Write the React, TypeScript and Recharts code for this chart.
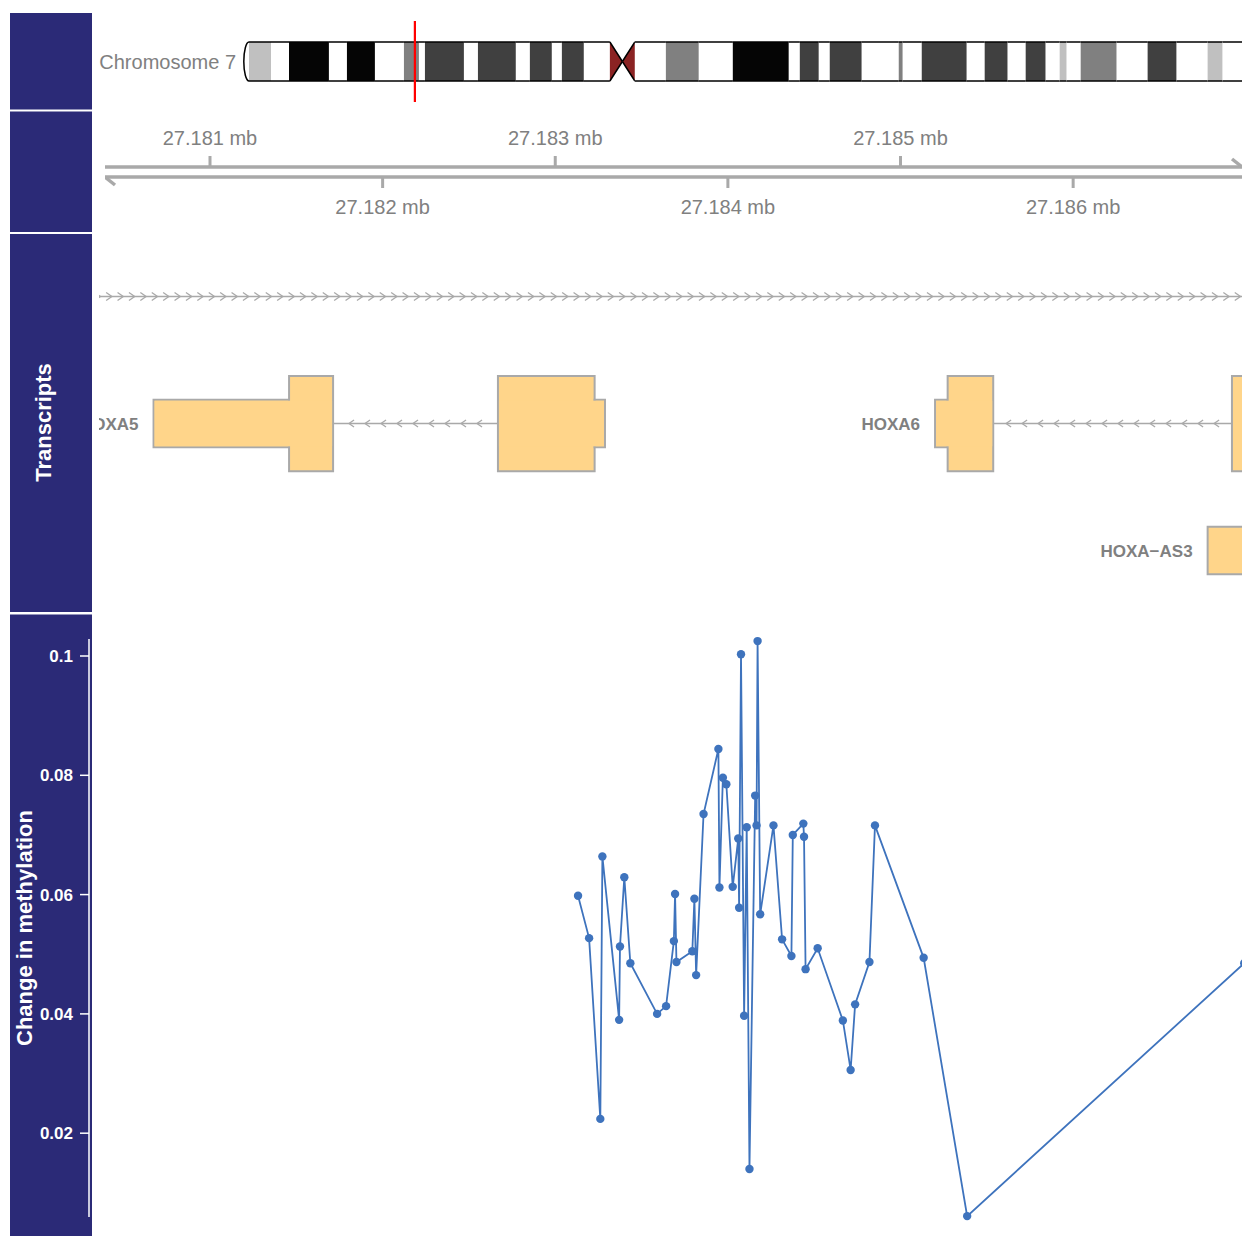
import React from 'react';
import { ComposedChart, Line, XAxis, YAxis, ReferenceArea, ReferenceLine } from 'recharts';

// ---------------- data ----------------
// Chromosome 7 ideogram bands (Mb)
const bandStarts = [0, 0.64, 4.16, 7.04, 13.43, 16.31, 20.79, 25.43, 27.83, 28.79, 35.03, 37.27, 43.34, 45.58, 49.1, 50.7, 54.22, 58.38, 60.38, 62.38, 67.34, 72.61, 78.05, 87.01, 88.77, 91.81, 93.56, 98.68, 104.6, 105.24, 108.28, 115.48, 118.35, 122.03, 124.91, 128.11, 130.35, 131.47, 133.71, 139.47, 144.42, 149.06, 154.02, 156.42];
const bandEnds = [0.64, 4.16, 7.04, 13.43, 16.31, 20.79, 25.43, 27.83, 28.79, 35.03, 37.27, 43.34, 45.58, 49.1, 50.7, 54.22, 58.38, 60.38, 62.38, 67.34, 72.61, 78.05, 87.01, 88.77, 91.81, 93.56, 98.68, 104.6, 105.24, 108.28, 115.48, 118.35, 122.03, 124.91, 128.11, 130.35, 131.47, 133.71, 139.47, 144.42, 149.06, 154.02, 156.42, 160];
const bandStains = ['gneg', 'gpos25', 'gneg', 'gpos100', 'gneg', 'gpos100', 'gneg', 'gpos50', 'gneg', 'gpos75', 'gneg', 'gpos75', 'gneg', 'gpos75', 'gneg', 'gpos75', 'gneg', 'acen', 'acen', 'gneg', 'gpos50', 'gneg', 'gpos100', 'gneg', 'gpos75', 'gneg', 'gpos75', 'gneg', 'gpos50', 'gneg', 'gpos75', 'gneg', 'gpos75', 'gneg', 'gpos75', 'gneg', 'gpos25', 'gneg', 'gpos50', 'gneg', 'gpos75', 'gneg', 'gpos25', 'gneg'];
const chromName = 'Chromosome 7';
const chromLengthMb = 160;
const viewStart = 27180322;
const viewEnd = 27187094;

// Genome axis ticks (bp)
const topTicks = [27181000, 27183000, 27185000];
const bottomTicks = [27182000, 27184000, 27186000];

// Transcripts
const geneNames = ['', 'HOXA5', 'HOXA6', 'HOXA\u2212AS3'];
const geneRows = [1, 2, 2, 3];
const geneStrands = ['+', '-', '-', '+'];
const geneStarts = [27179000, 27180673, 27185200, 27186779];
const geneEnds = [27192000, 27183288, 27187400, 27194000];

const exonGene = [1, 1, 1, 1, 2, 2, 2, 3];
const exonStarts = [27180673, 27181458, 27182668, 27183228, 27185200, 27185273, 27186920, 27186779];
const exonEnds = [27181458, 27181713, 27183228, 27183288, 27185273, 27185537, 27187250, 27194000];
const exonKinds = ['utr', 'cds', 'cds', 'utr', 'utr', 'cds', 'cds', 'utr'];

// Methylation data track
const methPos = [27183132, 27183196, 27183261, 27183273, 27183370, 27183375, 27183400, 27183435, 27183590, 27183642, 27183687, 27183694, 27183702, 27183794, 27183806, 27183816, 27183859, 27183945, 27183951, 27183971, 27183991, 27184028, 27184060, 27184065, 27184076, 27184094, 27184109, 27184125, 27184158, 27184166, 27184172, 27184187, 27184264, 27184314, 27184368, 27184376, 27184437, 27184441, 27184450, 27184520, 27184666, 27184711, 27184737, 27184820, 27184852, 27185134, 27185386, 27186991];
const methVal = [0.0598, 0.0527, 0.0224, 0.0664, 0.039, 0.0513, 0.0629, 0.0485, 0.04, 0.0413, 0.0522, 0.0601, 0.0487, 0.0505, 0.0593, 0.0465, 0.0735, 0.0844, 0.0612, 0.0796, 0.0785, 0.0613, 0.0694, 0.0578, 0.1003, 0.0397, 0.0713, 0.014, 0.0766, 0.0716, 0.1025, 0.0567, 0.0716, 0.0525, 0.0497, 0.07, 0.0719, 0.0697, 0.0475, 0.051, 0.0389, 0.0306, 0.0416, 0.0487, 0.0716, 0.0494, 0.0061, 0.0485];
const methTicks = [0.02, 0.04, 0.06, 0.08, 0.1];
const methTitle = 'Change in methylation';
const transcriptTitle = 'Transcripts';

// ---------------- styling / layout ----------------
const FONT = '"Liberation Sans", Arial, Helvetica, sans-serif';
const NAVY = '#2b2a77';
const TXT_GREY = '#808080';
const DARKGRAY = '#a9a9a9';
const GENE_FILL = '#ffd58a';
const BLUE = '#3e73bd';
const STAIN_COL: Record<string, string> = {
  gneg: '#ffffff', gpos25: '#c0c0c0', gpos50: '#808080', gpos75: '#404040', gpos100: '#050505', acen: '#8b2323',
};

const PX_PER_BP = 0.17263;
const REF_BP = 27181000;
const REF_PX = 210;
const pxToBp = (px: number) => REF_BP + (px - REF_PX) / PX_PER_BP;
const TRACK_DOMAIN: [number, number] = [pxToBp(93), pxToBp(1262)];
const METH_DOMAIN: [number, number] = [pxToBp(89), pxToBp(1262)];

const fmtMb = (v: number) => `${(v / 1e6).toFixed(3)} mb`;

// ---------------- shapes ----------------
function bandShape(stain: string, idx: number, acenSide: 'p' | 'q' | null) {
  return (p: any) => {
    const { x, y, width, height } = p;
    const col = STAIN_COL[stain];
    const mid = y + height / 2;
    if (acenSide === 'p') {
      return (
        <g>
          <path d={`M${x},${y}L${x + width},${mid}L${x},${y + height}Z`} fill={col} />
          <path d={`M${x},${y}L${x + width},${mid}M${x},${y + height}L${x + width},${mid}`} stroke="#000" strokeWidth={1.5} fill="none" />
        </g>
      );
    }
    if (acenSide === 'q') {
      return (
        <g>
          <path d={`M${x + width},${y}L${x},${mid}L${x + width},${y + height}Z`} fill={col} />
          <path d={`M${x + width},${y}L${x},${mid}M${x + width},${y + height}L${x},${mid}`} stroke="#000" strokeWidth={1.5} fill="none" />
        </g>
      );
    }
    if (idx === 0) {
      return (
        <path
          d={`M${x + width},${y}A${width * 1.3},${height / 2} 0 0 0 ${x + width},${y + height}`}
          fill={col}
          stroke="#000"
          strokeWidth={1.5}
        />
      );
    }
    return (
      <g>
        <rect x={x} y={y} width={width} height={height} fill={col} />
        <line x1={x} y1={y} x2={x + width} y2={y} stroke="#000" strokeWidth={1.5} />
        <line x1={x} y1={y + height} x2={x + width} y2={y + height} stroke="#000" strokeWidth={1.5} />
      </g>
    );
  };
}

function intronShape(strand: string, spacing: number, size: number) {
  return (p: any) => {
    const { x, y, width, height } = p;
    const cy = y + height / 2;
    const n = Math.max(0, Math.floor((width - 10) / spacing));
    const first = x + (width - (n - 1) * spacing) / 2;
    const hw = size * 0.36;
    const hh = size / 2;
    const chev: any[] = [];
    for (let i = 0; i < n; i++) {
      const cx = first + i * spacing;
      const d = strand === '-'
        ? `M${cx + hw},${cy - hh}L${cx - hw},${cy}L${cx + hw},${cy + hh}`
        : `M${cx - hw},${cy - hh}L${cx + hw},${cy}L${cx - hw},${cy + hh}`;
      chev.push(<path key={i} d={d} fill="none" stroke={DARKGRAY} strokeWidth={1.3} />);
    }
    return (
      <g>
        <line x1={x} y1={cy} x2={x + width} y2={cy} stroke={DARKGRAY} strokeWidth={1.5} />
        {chev}
      </g>
    );
  };
}

const insetShape = (p: any) => {
  const { x, y, width, height } = p;
  return <rect x={x + 1} y={y + 1} width={Math.max(0, width - 2)} height={Math.max(0, height - 2)} fill={GENE_FILL} />;
};

// ---------------- derived structures ----------------
const bandRows = bandStarts.map((s, i) => ({ start: s, end: bandEnds[i], stain: bandStains[i] }));
const methData = methPos.map((p, i) => ({ pos: p, value: methVal[i] }));
const exonRows = exonStarts.map((s, i) => ({
  start: s, end: exonEnds[i], kind: exonKinds[i], gene: exonGene[i], row: geneRows[exonGene[i]],
}));

// introns = gaps between consecutive exons of each gene (or the whole gene span if no exons)
const intronRows: { start: number; end: number; row: number; strand: string; gene: number }[] = [];
geneNames.forEach((_, g) => {
  const ex = exonRows.filter((e) => e.gene === g).sort((a, b) => a.start - b.start);
  if (ex.length === 0) {
    intronRows.push({ start: geneStarts[g], end: geneEnds[g], row: geneRows[g], strand: geneStrands[g], gene: g });
    return;
  }
  for (let i = 0; i < ex.length - 1; i++) {
    if (ex[i + 1].start > ex[i].end) {
      intronRows.push({ start: ex[i].end, end: ex[i + 1].start, row: geneRows[g], strand: geneStrands[g], gene: g });
    }
  }
});

// merged exon blocks (UTR + CDS drawn as one outline)
const blocks: { start: number; end: number; row: number; parts: number }[] = [];
geneNames.forEach((_, g) => {
  const ex = exonRows.filter((e) => e.gene === g).sort((a, b) => a.start - b.start);
  ex.forEach((e) => {
    const last = blocks[blocks.length - 1];
    if (last && last.row === e.row && Math.abs(last.end - e.start) < 1) {
      last.end = e.end;
      last.parts += 1;
    } else {
      blocks.push({ start: e.start, end: e.end, row: e.row, parts: 1 });
    }
  });
});

const CDS_H = 0.75;
const UTR_H = 0.375;

// ---------------- charts ----------------
function Ideogram() {
  const markMbStart = viewStart / 1e6;
  const markMbEnd = viewEnd / 1e6;
  return (
    <ComposedChart width={1152} height={100} data={bandRows} margin={{ top: 30, right: 0, bottom: 31, left: 152 }}>
      <XAxis type="number" dataKey="start" domain={[0, chromLengthMb]} allowDataOverflow hide />
      <YAxis type="number" domain={[0, 1]} allowDataOverflow hide />
      {bandRows.map((b, i) => (
        <ReferenceArea
          key={`b${i}`}
          x1={b.start}
          x2={b.end}
          y1={0}
          y2={1}
          ifOverflow="visible"
          fillOpacity={1}
          shape={bandShape(b.stain, i, b.stain === 'acen' ? (i > 0 && bandRows[i - 1].stain === 'acen' ? 'q' : 'p') : null)}
        />
      ))}
      <ReferenceArea
        x1={0}
        x2={chromLengthMb}
        y1={0}
        y2={1}
        ifOverflow="visible"
        fill="none"
        stroke="none"
        label={{ value: chromName, position: 'left', offset: 9, fill: TXT_GREY, fontSize: 20, fontFamily: FONT }}
      />
      <ReferenceArea
        x1={markMbStart}
        x2={markMbEnd}
        y1={-0.51}
        y2={1.51}
        ifOverflow="visible"
        fill="none"
        fillOpacity={0}
        stroke="#ff0000"
        strokeWidth={2.2}
      />
    </ComposedChart>
  );
}

function GenomeAxis() {
  const tickRows = [...topTicks, ...bottomTicks].map((t) => ({ pos: t }));
  const tickStyle = { fill: TXT_GREY, fontSize: 20, fontFamily: FONT };
  return (
    <ComposedChart width={1169} height={120} data={tickRows} margin={{ top: 0, right: 0, bottom: 0, left: 0 }}>
      <XAxis
        xAxisId="top"
        orientation="top"
        type="number"
        dataKey="pos"
        domain={TRACK_DOMAIN}
        allowDataOverflow
        ticks={topTicks}
        interval={0}
        tickFormatter={fmtMb}
        height={55}
        axisLine={{ stroke: DARKGRAY, strokeWidth: 3.5 }}
        tickLine={{ stroke: DARKGRAY, strokeWidth: 3 }}
        tickSize={11}
        tickMargin={11}
        tick={tickStyle}
      />
      <XAxis
        xAxisId="bottom"
        orientation="bottom"
        type="number"
        dataKey="pos"
        domain={TRACK_DOMAIN}
        allowDataOverflow
        ticks={bottomTicks}
        interval={0}
        tickFormatter={fmtMb}
        height={55}
        axisLine={{ stroke: DARKGRAY, strokeWidth: 3.5 }}
        tickLine={{ stroke: DARKGRAY, strokeWidth: 3 }}
        tickSize={11}
        tickMargin={12}
        tick={tickStyle}
      />
      <YAxis type="number" domain={[0, 1]} allowDataOverflow hide />
      <ReferenceLine
        xAxisId="top"
        ifOverflow="visible"
        segment={[{ x: pxToBp(1242), y: 1 }, { x: pxToBp(1232), y: 1.8 }]}
        stroke={DARKGRAY}
        strokeWidth={3.5}
      />
      <ReferenceLine
        xAxisId="top"
        ifOverflow="visible"
        segment={[{ x: pxToBp(105), y: 0 }, { x: pxToBp(115), y: -0.8 }]}
        stroke={DARKGRAY}
        strokeWidth={3.5}
      />
    </ComposedChart>
  );
}

function Transcripts() {
  return (
    <ComposedChart width={1169} height={381} data={exonRows} margin={{ top: 0, right: 0, bottom: 0, left: 0 }}>
      <XAxis type="number" dataKey="start" domain={TRACK_DOMAIN} allowDataOverflow hide />
      <YAxis type="number" domain={[0.5, 3.5]} reversed allowDataOverflow hide />
      {intronRows.map((r, i) => (
        <ReferenceArea
          key={`i${i}`}
          x1={r.start}
          x2={r.end}
          y1={r.row - 0.1}
          y2={r.row + 0.1}
          ifOverflow="visible"
          shape={intronShape(r.strand, r.gene === 0 ? 11.4 : 16, r.gene === 0 ? 8 : 7)}
        />
      ))}
      {exonRows.map((e, i) => {
        const h = e.kind === 'cds' ? CDS_H : UTR_H;
        return (
          <ReferenceArea
            key={`e${i}`}
            x1={e.start}
            x2={e.end}
            y1={e.row - h / 2}
            y2={e.row + h / 2}
            ifOverflow="visible"
            fill={GENE_FILL}
            fillOpacity={1}
            stroke={DARKGRAY}
            strokeWidth={2}
          />
        );
      })}
      {blocks.filter((b) => b.parts > 1).map((b, i) => (
        <ReferenceArea
          key={`m${i}`}
          x1={b.start}
          x2={b.end}
          y1={b.row - UTR_H / 2}
          y2={b.row + UTR_H / 2}
          ifOverflow="visible"
          shape={insetShape}
        />
      ))}
      {geneNames.map((n, g) =>
        n ? (
          <ReferenceArea
            key={`l${g}`}
            x1={geneStarts[g]}
            x2={geneEnds[g]}
            y1={geneRows[g] - CDS_H / 2}
            y2={geneRows[g] + CDS_H / 2}
            ifOverflow="visible"
            fill="none"
            fillOpacity={0}
            stroke="none"
            label={{ value: n, position: 'left', offset: 15, fill: TXT_GREY, fontSize: 17, fontWeight: 'bold', fontFamily: FONT }}
          />
        ) : null
      )}
    </ComposedChart>
  );
}

function Methylation() {
  return (
    <ComposedChart width={1262} height={621} data={methData} margin={{ top: 24, right: 0, bottom: 19, left: 10 }}>
      <XAxis type="number" dataKey="pos" domain={METH_DOMAIN} hide />
      <YAxis
        type="number"
        domain={[0.00595, 0.10285]}
        ticks={methTicks}
        interval={0}
        width={79}
        tickFormatter={(v: number) => String(Number(v.toFixed(2)))}
        axisLine={{ stroke: '#ffffff', strokeWidth: 1.5 }}
        tickLine={{ stroke: '#ffffff', strokeWidth: 1.5 }}
        tickSize={9}
        tickMargin={7}
        tick={{ fill: '#ffffff', fontSize: 17, fontWeight: 'bold', fontFamily: FONT }}
      />
      <Line
        type="linear"
        dataKey="value"
        stroke={BLUE}
        strokeWidth={1.8}
        dot={{ r: 4.2, fill: BLUE, stroke: 'none' }}
        activeDot={false}
        isAnimationActive={false}
      />
    </ComposedChart>
  );
}

export default function App() {
  return (
    <div
      style={{
        position: 'absolute', left: 0, top: 0, width: 1242, height: 1236,
        overflow: 'hidden', background: '#ffffff', fontFamily: FONT,
      }}
    >
      <svg width={1242} height={1236} style={{ position: 'absolute', left: 0, top: 0 }}>
        <rect x={10} y={13} width={82} height={96.5} fill={NAVY} />
        <rect x={10} y={111.5} width={82} height={120.5} fill={NAVY} />
        <rect x={10} y={234} width={82} height={378} fill={NAVY} />
        <rect x={10} y={614.5} width={82} height={622} fill={NAVY} />
        <text
          x={0}
          y={0}
          transform="translate(43,422.5) rotate(-90)"
          textAnchor="middle"
          dominantBaseline="central"
          fill="#ffffff"
          fontWeight="bold"
          fontSize={22}
          fontFamily={FONT}
        >
          {transcriptTitle}
        </text>
        <text
          x={0}
          y={0}
          transform="translate(24,928) rotate(-90)"
          textAnchor="middle"
          dominantBaseline="central"
          fill="#ffffff"
          fontWeight="bold"
          fontSize={22}
          fontFamily={FONT}
        >
          {methTitle}
        </text>
      </svg>
      <div style={{ position: 'absolute', left: 93, top: 12 }}>
        <Ideogram />
      </div>
      <div style={{ position: 'absolute', left: 93, top: 112, clipPath: 'inset(0px 0px 0px 12px)' }}>
        <GenomeAxis />
      </div>
      <div style={{ position: 'absolute', left: 93, top: 233, clipPath: 'inset(0px 0px 0px 6px)' }}>
        <Transcripts />
      </div>
      <div style={{ position: 'absolute', left: 0, top: 615 }}>
        <Methylation />
      </div>
    </div>
  );
}
